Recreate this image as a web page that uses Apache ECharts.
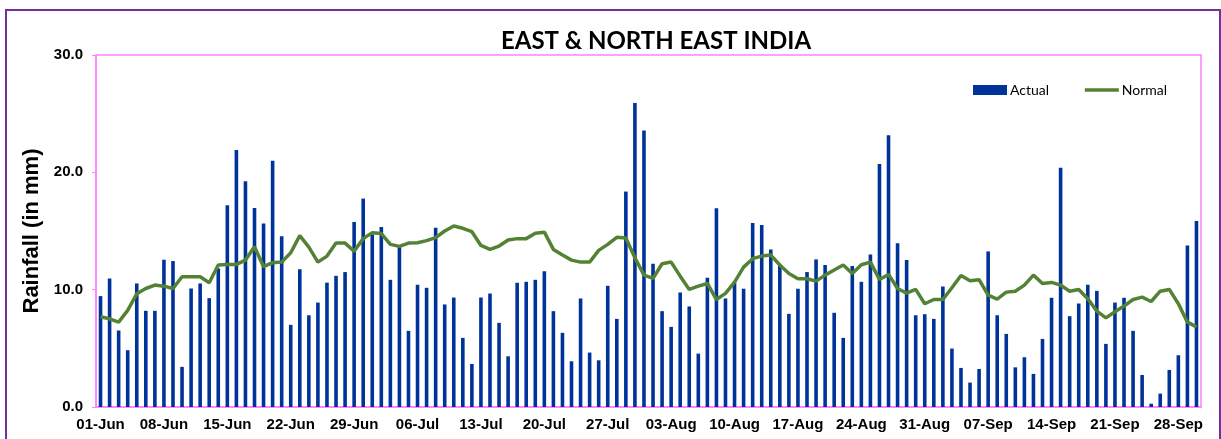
<!DOCTYPE html>
<html>
<head>
<meta charset="utf-8">
<title>East & North East India rainfall</title>
<script src="https://cdn.jsdelivr.net/npm/echarts@6/dist/echarts.min.js"></script>
<style>
    html, body { margin: 0; padding: 0; background: #fff; }
    #root { width: 1221px; height: 439px; }
    .frame {
        position: absolute; left: 5px; top: 9px; width: 1212px; height: 460px;
        border: 2px solid #7030a0; pointer-events: none;
    }
</style>
</head>
<body>
<div id="root"></div>
<div class="frame"></div>
<script>
// 月份和天数
var months = ['Jun', 'Jul', 'Aug', 'Sep'];
var monthDays = [30, 31, 31, 30];

// 实际降雨 (mm) 6月1日 - 9月30日
var actual = [
    9.45, 10.96, 6.52, 4.84, 10.53, 8.2, 8.2, 12.55, 12.44, 3.42,
    10.1, 10.53, 9.28, 11.8, 17.2, 21.9, 19.24, 16.97, 15.63, 20.98,
    14.55, 7.0, 11.75, 7.82, 8.9, 10.6, 11.18, 11.5, 15.77, 17.76,
    14.71, 15.34, 10.84, 13.72, 6.49, 10.42, 10.16, 15.28, 8.74, 9.33,
    5.89, 3.67, 9.33, 9.67, 7.17, 4.32, 10.59, 10.67, 10.84, 11.58,
    8.17, 6.32, 3.9, 9.25, 4.64, 3.98, 10.33, 7.51, 18.36, 25.9, 23.57,
    12.21, 8.17, 6.83, 9.76, 8.57, 4.55, 11.01, 16.93, 9.25, 10.6,
    10.08, 15.68, 15.51, 13.43, 12.1, 7.94, 10.08, 11.5, 12.58, 12.1,
    8.03, 5.89, 12.01, 10.67, 13.0, 20.72, 23.17, 13.95, 12.52, 7.82, 7.91,
    7.51, 10.27, 4.98, 3.33, 2.08, 3.24, 13.26, 7.82, 6.23, 3.38,
    4.24, 2.82, 5.8, 9.31, 20.38, 7.74, 8.82, 10.42, 9.9, 5.38,
    8.9, 9.31, 6.49, 2.73, 0.28, 1.14, 3.16, 4.41, 13.77, 15.85
];

// 正常降雨 (mm)
var normal = [
    7.69, 7.52, 7.23, 8.23, 9.65, 10.1, 10.39, 10.3, 10.1, 11.1,
    11.1, 11.1, 10.59, 12.1, 12.15, 12.15, 12.52, 13.66, 11.96, 12.3,
    12.35, 13.15, 14.6, 13.62, 12.35, 12.86, 13.97, 13.97, 13.27, 14.35,
    14.86, 14.78, 13.86, 13.69, 13.97, 14.0, 14.18, 14.43, 15.0, 15.42,
    15.23, 14.94, 13.77, 13.43, 13.72, 14.23, 14.35, 14.35, 14.8, 14.9,
    13.43, 12.95, 12.52, 12.35, 12.35, 13.35, 13.86, 14.46, 14.4, 12.72, 11.24,
    10.96, 12.21, 12.35, 11.15, 10.02, 10.3, 10.53, 9.16, 9.68, 10.64,
    11.92, 12.64, 12.86, 12.95, 12.1, 11.38, 10.93, 10.93, 10.73, 11.24,
    11.67, 12.1, 11.38, 12.12, 12.35, 10.87, 11.3, 10.1, 9.7, 10.02, 8.8,
    9.16, 9.16, 10.16, 11.21, 10.76, 10.85, 9.53, 9.2, 9.79, 9.87,
    10.39, 11.24, 10.53, 10.62, 10.39, 9.87, 10.02, 9.22, 8.17, 7.6,
    8.12, 8.6, 9.16, 9.36, 8.99, 9.87, 10.02, 8.8, 7.23, 6.83
];

// 日期标签 01-Jun ...
var days = [];
for (var m = 0; m < months.length; m++) {
    for (var d = 1; d <= monthDays[m]; d++) {
        days.push((d < 10 ? '0' + d : '' + d) + '-' + months[m]);
    }
}

var pink = '#ff80ff';
var green = '#548235';
var myChart = echarts.init(document.getElementById('root'));

var option = {
    animation: false,
    textStyle: { fontFamily: 'Liberation Sans' },
    title: {
        text: 'EAST & NORTH EAST INDIA',
        left: 651,
        top: 24,
        textAlign: 'center',
        textStyle: { fontFamily: 'Lato', fontWeight: 'bold', fontSize: 24, color: '#000' }
    },
    legend: {
        left: 973,
        top: 83,
        padding: 0,
        itemWidth: 34,
        itemHeight: 10,
        itemGap: 34,
        textStyle: { fontFamily: 'Lato', fontSize: 14, color: '#000', padding: [0, 0, 0, -2] },
        data: [
            { name: 'Actual', icon: 'rect' },
            { name: 'Normal', itemStyle: { opacity: 0 }, lineStyle: { color: green, width: 3.5 } }
        ]
    },
    grid: {
        left: 96,
        right: 20,
        top: 55,
        bottom: 32,
        show: true,
        borderColor: pink,
        borderWidth: 1.5
    },
    xAxis: {
        type: 'category',
        data: days,
        axisLine: { lineStyle: { color: pink, width: 1.5 } },
        axisTick: { show: false },
        axisLabel: {
            interval: 6,
            margin: 10,
            color: '#000',
            fontWeight: 'bold',
            fontSize: 15
        }
    },
    yAxis: {
        type: 'value',
        min: 0,
        max: 30,
        interval: 10,
        name: 'Rainfall (in mm)',
        nameLocation: 'middle',
        nameGap: 49,
        nameTextStyle: { fontWeight: 'bold', fontSize: 22, color: '#000' },
        axisLine: { show: true, lineStyle: { color: pink, width: 1.5 } },
        axisTick: { show: true, length: 4, lineStyle: { color: pink } },
        splitLine: { show: false },
        axisLabel: {
            margin: 13,
            color: '#000',
            fontWeight: 'bold',
            fontSize: 15,
            formatter: function (v) { return v.toFixed(1); }
        }
    },
    series: [
        {
            name: 'Actual',
            type: 'bar',
            data: actual,
            barWidth: 3.6,
            itemStyle: { color: '#003399' }
        },
        {
            name: 'Normal',
            type: 'line',
            data: normal,
            symbol: 'none',
            lineStyle: { color: green, width: 3.5 },
            itemStyle: { color: green }
        }
    ]
};

myChart.setOption(option);
</script>
</body>
</html>
